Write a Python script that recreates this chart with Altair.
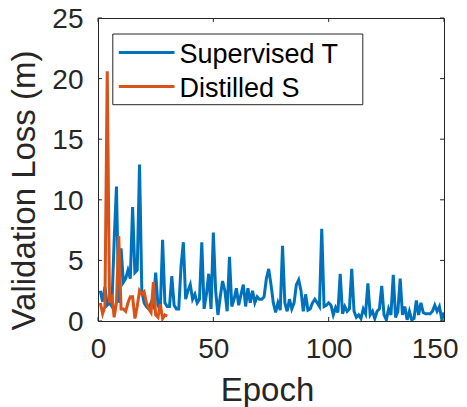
import altair as alt
import pandas as pd

supervised_t = [2.5, 1.6, 2.8, 1.3, 1.5, 1.2, 6.6, 11.1, 1.5, 6.0,
                3.2, 3.5, 4.2, 3.5, 9.4, 4.0, 4.2, 12.9, 2.5, 1.5,
                1.2, 1.0, 1.5, 1.2, 4.0, 1.3, 0.9, 6.7, 1.5, 1.2,
                1.2, 3.7, 1.3, 1.0, 1.0, 4.5, 6.5, 1.8, 2.5, 3.0,
                1.8, 2.2, 1.5, 1.8, 6.5, 1.0, 2.2, 3.9, 1.0, 7.3,
                2.5, 0.5, 2.0, 3.3, 2.5, 0.8, 5.3, 1.2, 1.8, 2.7,
                1.3, 2.2, 3.0, 1.2, 2.7, 1.5, 2.5, 1.5, 2.0, 1.8,
                1.8, 2.0, 3.5, 4.3, 3.0, 1.5, 0.7, 1.5, 0.9, 6.2,
                1.5, 0.8, 1.8, 1.0, 1.5, 3.0, 3.4, 2.5, 0.8, 2.2,
                0.9, 1.0, 1.5, 1.8, 1.5, 1.2, 7.6, 1.2, 1.3, 1.5,
                1.3, 0.5, 1.1, 0.7, 3.9, 0.6, 1.2, 0.8, 1.0, 4.3,
                0.8, 0.3, 0.5, 0.2, 1.0, 0.6, 3.1, 0.5, 0.8, 0.2,
                0.8, 1.0, 2.9, 0.5, 0.1, 1.0, 0.5, 3.8, 0.3, 0.8,
                3.5, 0.5, 1.2, 0.1, 0.8, 0.1, 0.2, 1.7, 0.5, 1.5,
                0.7, 0.6, 0.6, 0.6, 0.8, 1.3, 0.8, 1.2, 0.2, 0.7]
distilled_s = [1.5, 0.6, 1.2, 20.6, 1.5, 2.2, 0.3, 1.5, 7.0, 1.0,
               1.0, 0.8, 1.5, 2.0, 2.0, 0.2, 1.2, 2.5, 2.2, 2.4,
               1.5, 1.0, 0.7, 3.2, 0.5, 0.3, 1.4, 0.2, 0.5, 0.4]
series_names = ["Supervised T", "Distilled S"]
series_colors = ["#0072BD", "#D95319"]
x_ticks = [0, 50, 100, 150]
y_ticks = [0, 5, 10, 15, 20, 25]

rows = []
for i, v in enumerate(supervised_t):
    rows.append({"epoch": i + 1, "loss": v, "series": series_names[0]})
for i, v in enumerate(distilled_s):
    rows.append({"epoch": i + 1, "loss": v, "series": series_names[1]})
df = pd.DataFrame(rows)

W, H = 346, 303
FONT = "Liberation Sans"
AX = "#262626"

xs = alt.Scale(domain=[0, 150], nice=False)
ys = alt.Scale(domain=[0, 25], nice=False)

last_x = "datum.value >= 150"

lines = alt.Chart(df).mark_line(strokeWidth=3, clip=True).encode(
    x=alt.X("epoch:Q", scale=xs,
            axis=alt.Axis(values=x_ticks, title="Epoch", ticks=False, labelFlush=False,
                          labelAlign={"condition": {"test": last_x, "value": "right"},
                                      "value": "center"},
                          labelOffset={"condition": {"test": last_x, "value": 14},
                                       "value": 0},
                          labelPadding=14, titleX=169, titleY=79,
                          titleBaseline="alphabetic", titleAlign="center")),
    y=alt.Y("loss:Q", scale=ys,
            axis=alt.Axis(values=y_ticks, title="Validation Loss (m)", ticks=False,
                          labelFlush=False, labelOffset=1.5,
                          labelPadding=15, titleX=-64, titleY=172,
                          titleBaseline="alphabetic", titleAlign="center",
                          titleAngle=270)),
    color=alt.Color("series:N", scale=alt.Scale(domain=series_names, range=series_colors),
                    legend=None),
    detail="series:N",
)

xt = pd.DataFrame({"t": x_ticks})
yt = pd.DataFrame({"t": y_ticks})
tk = dict(color=AX, strokeWidth=1)
tb = alt.Chart(xt).mark_rule(**tk).encode(x=alt.X("t:Q", scale=xs), y=alt.value(H), y2=alt.value(H - 4))
tt = alt.Chart(xt).mark_rule(**tk).encode(x=alt.X("t:Q", scale=xs), y=alt.value(0), y2=alt.value(4))
tl = alt.Chart(yt).mark_rule(**tk).encode(y=alt.Y("t:Q", scale=ys), x=alt.value(0), x2=alt.value(4))
tr = alt.Chart(yt).mark_rule(**tk).encode(y=alt.Y("t:Q", scale=ys), x=alt.value(W - 4), x2=alt.value(W))

# manual legend (MATLAB style box in the upper-left)
one = pd.DataFrame({"k": [0]})
leg_box = alt.Chart(one).mark_rect(fill="white", stroke=AX, strokeWidth=1).encode(
    x=alt.value(14.8), x2=alt.value(264.8), y=alt.value(16), y2=alt.value(86.7))
leg_layers = [leg_box]
row_y = [34.4, 68.4]
for name, col, ry in zip(series_names, series_colors, row_y):
    d = pd.DataFrame({"name": [name]})
    leg_layers.append(alt.Chart(d).mark_rule(color=col, strokeWidth=3).encode(
        x=alt.value(20.8), x2=alt.value(76.5), y=alt.value(ry)))
    leg_layers.append(alt.Chart(d).mark_text(
        font=FONT, fontSize=27, color="#000000", align="left", baseline="alphabetic").encode(
        text="name:N", x=alt.value(81.5), y=alt.value(ry + 10.5)))

chart = alt.layer(lines, tb, tt, tl, tr, *leg_layers).properties(
    width=W, height=H,
    autosize=alt.AutoSizeParams(type="none"),
    padding={"left": 90, "top": 10, "right": 15, "bottom": 86},
).configure_view(stroke=AX, strokeWidth=1).configure_axis(
    labelFont=FONT, titleFont=FONT, labelFontSize=28, titleFontSize=33,
    labelColor=AX, titleColor=AX, domainColor=AX, grid=False,
    titleFontWeight="normal",
)

chart.save("out.html", embed_options={"renderer": "svg", "actions": False})
